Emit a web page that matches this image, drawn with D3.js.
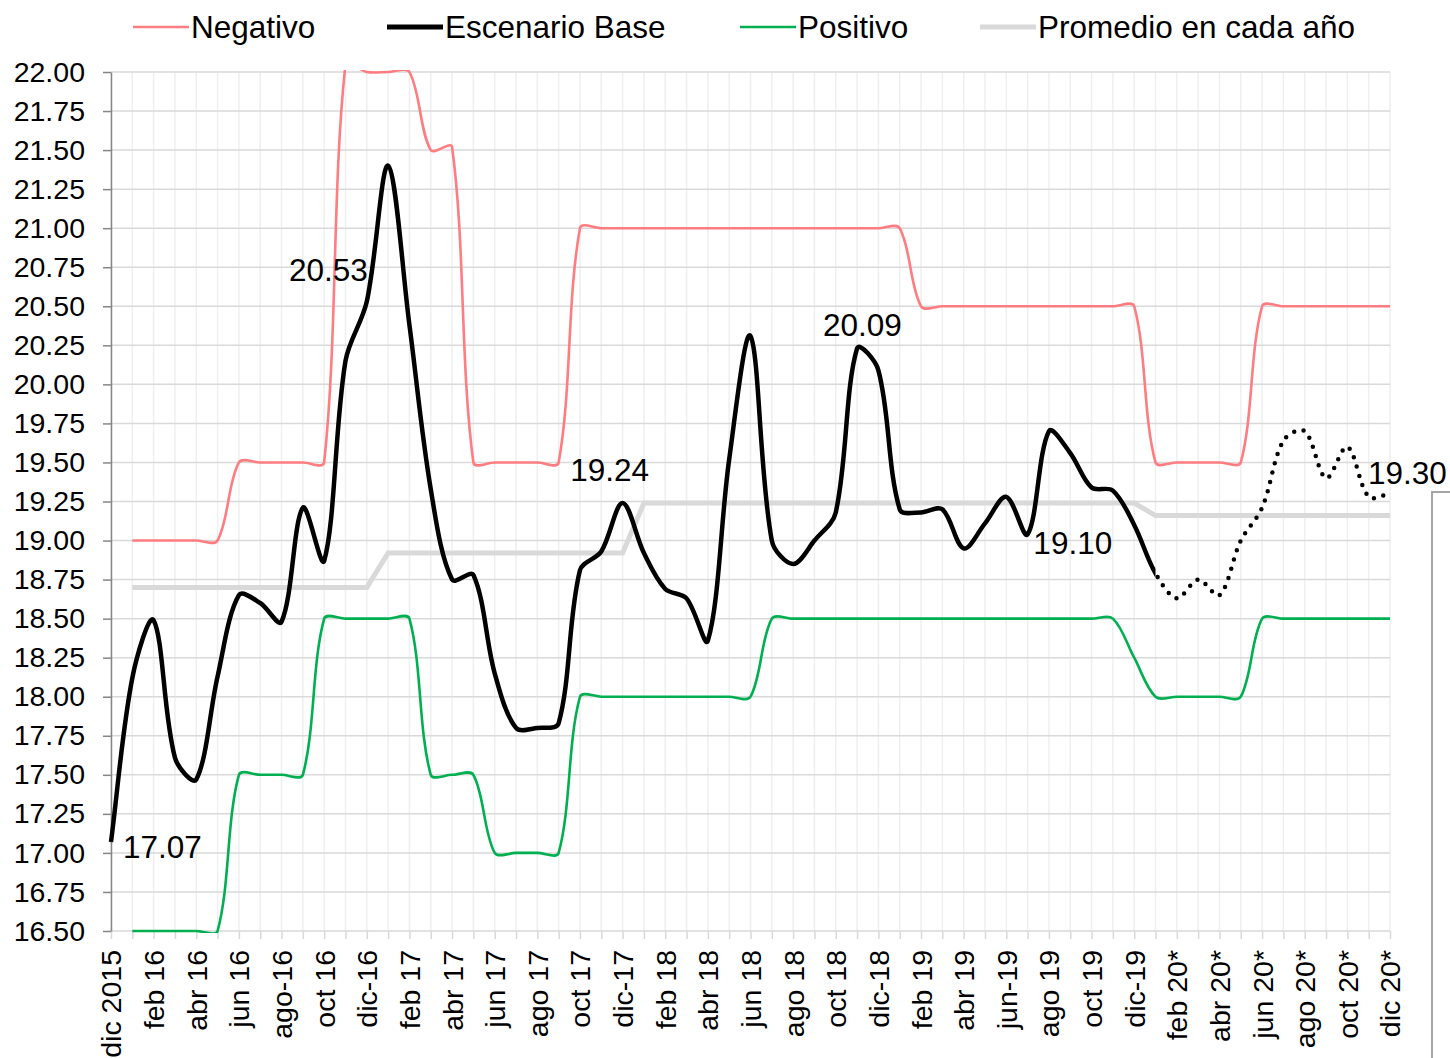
<!DOCTYPE html>
<html>
<head>
<meta charset="utf-8">
<script src="https://cdnjs.cloudflare.com/ajax/libs/d3/7.8.5/d3.min.js"></script>
<style>
    body { margin: 0; background: #fff; }
    svg text { font-family: "Liberation Sans", Arial, sans-serif; fill: #000; }
</style>
</head>
<body>
<div id="chart"></div>
<script>
var months = ["dic 2015", "ene 16", "feb 16", "mar 16", "abr 16", "may 16", "jun 16", "jul 16", "ago-16", "sep 16",
    "oct 16", "nov 16", "dic-16", "ene 17", "feb 17", "mar 17", "abr 17", "may 17", "jun 17", "jul 17",
    "ago 17", "sep 17", "oct 17", "nov 17", "dic-17", "ene 18", "feb 18", "mar 18", "abr 18", "may 18",
    "jun 18", "jul 18", "ago 18", "sep 18", "oct 18", "nov 18", "dic-18", "ene 19", "feb 19", "mar 19",
    "abr 19", "may 19", "jun-19", "jul 19", "ago 19", "sep 19", "oct 19", "nov 19", "dic-19", "ene 20*",
    "feb 20*", "mar 20*", "abr 20*", "may 20*", "jun 20*", "jul 20*", "ago 20*", "sep 20*", "oct 20*", "nov 20*",
    "dic 20*"];

var negativo = [null, 19.0, 19.0, 19.0, 19.0, 19.0, 19.5, 19.5, 19.5, 19.5,
    19.5, 22.05, 22.0, 22.0, 22.0, 21.5, 21.52, 19.5, 19.5, 19.5,
    19.5, 19.5, 21.0, 21.0, 21.0, 21.0, 21.0, 21.0, 21.0, 21.0,
    21.0, 21.0, 21.0, 21.0, 21.0, 21.0, 21.0, 21.0, 20.5, 20.5,
    20.5, 20.5, 20.5, 20.5, 20.5, 20.5, 20.5, 20.5, 20.5, 19.5,
    19.5, 19.5, 19.5, 19.5, 20.5, 20.5, 20.5, 20.5, 20.5, 20.5,
    20.5];

var base = [17.07, 18.12, 18.49, 17.61, 17.47, 18.13, 18.65, 18.60, 18.48, 19.21,
    18.87, 20.15, 20.53, 21.40, 20.38, 19.33, 18.75, 18.78, 18.15, 17.80,
    17.80, 17.83, 18.81, 18.93, 19.24, 18.92, 18.69, 18.63, 18.36, 19.52,
    20.31, 19.00, 18.85, 19.00, 19.18, 20.23, 20.09, 19.20, 19.18, 19.20,
    18.95, 19.11, 19.28, 19.04, 19.70, 19.56, 19.34, 19.32, 19.10, 18.79,
    18.63, 18.75, 18.65, 19.00, 19.21, 19.64, 19.70, 19.40, 19.60, 19.28,
    19.30];

var positivo = [null, 16.5, 16.5, 16.5, 16.5, 16.5, 17.5, 17.5, 17.5, 17.5,
    18.5, 18.5, 18.5, 18.5, 18.5, 17.5, 17.5, 17.5, 17.0, 17.0,
    17.0, 17.0, 18.0, 18.0, 18.0, 18.0, 18.0, 18.0, 18.0, 18.0,
    18.0, 18.5, 18.5, 18.5, 18.5, 18.5, 18.5, 18.5, 18.5, 18.5,
    18.5, 18.5, 18.5, 18.5, 18.5, 18.5, 18.5, 18.5, 18.25, 18.0,
    18.0, 18.0, 18.0, 18.0, 18.5, 18.5, 18.5, 18.5, 18.5, 18.5,
    18.5];

var promedio = [null, 18.70, 18.70, 18.70, 18.70, 18.70, 18.70, 18.70, 18.70, 18.70,
    18.70, 18.70, 18.70, 18.92, 18.92, 18.92, 18.92, 18.92, 18.92, 18.92,
    18.92, 18.92, 18.92, 18.92, 18.92, 19.24, 19.24, 19.24, 19.24, 19.24,
    19.24, 19.24, 19.24, 19.24, 19.24, 19.24, 19.24, 19.24, 19.24, 19.24,
    19.24, 19.24, 19.24, 19.24, 19.24, 19.24, 19.24, 19.24, 19.24, 19.16,
    19.16, 19.16, 19.16, 19.16, 19.16, 19.16, 19.16, 19.16, 19.16, 19.16,
    19.16];

var yTicks = [16.5, 16.75, 17, 17.25, 17.5, 17.75, 18, 18.25, 18.5, 18.75, 19, 19.25,
    19.5, 19.75, 20, 20.25, 20.5, 20.75, 21, 21.25, 21.5, 21.75, 22];

// december points that carry a value label, and where the label sits
var labelIndex = [0, 12, 24, 36, 48, 60];
var labelPlace = [{dx: 12, dy: 5, anchor: "start"}, {dx: 1, dy: -32, anchor: "end"},
    {dx: -13, dy: -33, anchor: "middle"}, {dx: -16, dy: -45, anchor: "middle"},
    {dx: -22, dy: 18, anchor: "end"}, {dx: -22, dy: -21, anchor: "start"}];

// first forecast month: line turns dotted from here
var forecastStart = 49;

var width = 1450, height = 1058,
    plotLeft = 111, plotRight = 1390, plotTop = 72, plotBot = 931;

// spreadsheet style smoothing: catmull-rom tangents, arms scaled by segment length
function smoothCurve(context) {
    var pts = [];
    function dist(a, b) { return Math.hypot(b[0] - a[0], b[1] - a[1]); }
    return {
        lineStart: function() { pts = []; },
        point: function(px, py) { pts.push([px, py]); },
        lineEnd: function() {
            var n = pts.length;
            if (!n) return;
            context.moveTo(pts[0][0], pts[0][1]);
            for (var i = 0; i < n - 1; i++) {
                var p0 = pts[Math.max(i - 1, 0)], p1 = pts[i], p2 = pts[i + 1], p3 = pts[Math.min(i + 2, n - 1)];
                var d01 = dist(p0, p1), d12 = dist(p1, p2), d23 = dist(p2, p3);
                var f1 = d01 + d12 > 0 ? d12 / (d01 + d12) / 3 : 0;
                var f2 = d12 + d23 > 0 ? d12 / (d12 + d23) / 3 : 0;
                context.bezierCurveTo(
                    p1[0] + f1 * (p2[0] - p0[0]), p1[1] + f1 * (p2[1] - p0[1]),
                    p2[0] - f2 * (p3[0] - p1[0]), p2[1] - f2 * (p3[1] - p1[1]),
                    p2[0], p2[1]);
            }
        }
    };
}

var svg = d3.select("#chart").append("svg")
    .attr("width", width)
    .attr("height", height);

var x = d3.scalePoint().domain(months).range([plotLeft, plotRight]);
var y = d3.scaleLinear().domain([16.5, 22]).range([plotBot, plotTop]);

// grid lines
svg.append("g").selectAll("line").data(months).enter().append("line")
    .attr("x1", d => x(d)).attr("x2", d => x(d))
    .attr("y1", plotTop).attr("y2", plotBot)
    .attr("stroke", "#efefef").attr("stroke-width", 1.5);

svg.append("g").selectAll("line").data(yTicks).enter().append("line")
    .attr("x1", plotLeft).attr("x2", plotRight)
    .attr("y1", d => y(d)).attr("y2", d => y(d))
    .attr("stroke", "#d9d9d9").attr("stroke-width", 1.5);

// x axis
var xAxisG = svg.append("g")
    .attr("transform", `translate(0,${plotBot})`)
    .call(d3.axisBottom(x).tickSize(8).tickSizeOuter(0)
        .tickFormat((d, i) => i % 2 == 0 ? d : ""));
xAxisG.select(".domain").remove();
xAxisG.selectAll(".tick line").attr("stroke", "#d9d9d9").attr("stroke-width", 1.5);
xAxisG.selectAll(".tick text")
    .attr("transform", "rotate(-90)")
    .attr("x", -19).attr("y", 0).attr("dy", "0.35em")
    .style("text-anchor", "end")
    .style("font-size", "28.5px")
    .style("font-family", "'Liberation Sans', Arial, sans-serif");

// y axis
var yAxisG = svg.append("g")
    .attr("transform", `translate(${plotLeft},0)`)
    .call(d3.axisLeft(y).tickValues(yTicks).tickSize(8).tickSizeOuter(0)
        .tickFormat(d3.format(".2f")));
yAxisG.select(".domain").attr("stroke", "#868686").attr("stroke-width", 1.5);
yAxisG.selectAll(".tick line").attr("stroke", "#868686").attr("stroke-width", 1.5);
yAxisG.selectAll(".tick text")
    .attr("x", -26)
    .style("font-size", "28.5px")
    .style("font-family", "'Liberation Sans', Arial, sans-serif");

// clip to plot area, and split the base line at the forecast start
var defs = svg.append("defs");
defs.append("clipPath").attr("id", "plotClip").append("rect")
    .attr("x", plotLeft - 3).attr("y", plotTop - 2)
    .attr("width", plotRight - plotLeft + 6).attr("height", plotBot - plotTop + 4);
var splitX = x(months[forecastStart]);
defs.append("clipPath").attr("id", "pastClip").append("rect")
    .attr("x", 0).attr("y", 0).attr("width", splitX).attr("height", height);
defs.append("clipPath").attr("id", "futureClip").append("rect")
    .attr("x", splitX).attr("y", 0).attr("width", width - splitX).attr("height", height);

var smooth = d3.line()
    .defined(d => d != null)
    .x((d, i) => x(months[i]))
    .y(d => y(d))
    .curve(smoothCurve);

var straight = d3.line()
    .defined(d => d != null)
    .x((d, i) => x(months[i]))
    .y(d => y(d));

var lines = svg.append("g").attr("clip-path", "url(#plotClip)");

lines.append("path").attr("d", straight(promedio))
    .attr("fill", "none").attr("stroke", "#d9d9d9").attr("stroke-width", 5);

lines.append("path").attr("d", smooth(negativo))
    .attr("fill", "none").attr("stroke", "#ff7c80").attr("stroke-width", 2.6);

lines.append("path").attr("d", smooth(positivo))
    .attr("fill", "none").attr("stroke", "#00b050").attr("stroke-width", 2.6);

lines.append("g").attr("clip-path", "url(#pastClip)")
    .append("path").attr("d", smooth(base))
    .attr("fill", "none").attr("stroke", "#000").attr("stroke-width", 4.5);

lines.append("g").attr("clip-path", "url(#futureClip)")
    .append("path").attr("d", smooth(base))
    .attr("fill", "none").attr("stroke", "#000").attr("stroke-width", 4.5)
    .attr("stroke-linecap", "round").attr("stroke-dasharray", "0 9.6");

// value labels on the december points
svg.append("g").selectAll("text").data(labelIndex).enter().append("text")
    .attr("x", (d, i) => x(months[d]) + labelPlace[i].dx)
    .attr("y", (d, i) => y(base[d]) + labelPlace[i].dy)
    .attr("dy", "0.35em")
    .style("text-anchor", (d, i) => labelPlace[i].anchor)
    .style("font-size", "31.5px")
    .text(d => base[d].toFixed(2));

// legend
var legendData = [
    {name: "Negativo", color: "#ff7c80", w: 2.6, x: 133},
    {name: "Escenario Base", color: "#000", w: 5, x: 387},
    {name: "Positivo", color: "#00b050", w: 2.6, x: 740},
    {name: "Promedio en cada año", color: "#d9d9d9", w: 5, x: 980}
];
var legend = svg.append("g").selectAll("g").data(legendData).enter().append("g")
    .attr("transform", d => `translate(${d.x},27)`);
legend.append("line")
    .attr("x1", 0).attr("x2", 56).attr("y1", 0).attr("y2", 0)
    .attr("stroke", d => d.color).attr("stroke-width", d => d.w);
legend.append("text")
    .attr("x", 58).attr("dy", "0.35em")
    .style("font-size", "31.5px")
    .text(d => d.name);

// edge of a neighbouring box at the bottom right
svg.append("path")
    .attr("d", "M1432,1058 V492 H1452")
    .attr("fill", "none").attr("stroke", "#a6a6a6").attr("stroke-width", 2);
</script>
</body>
</html>
